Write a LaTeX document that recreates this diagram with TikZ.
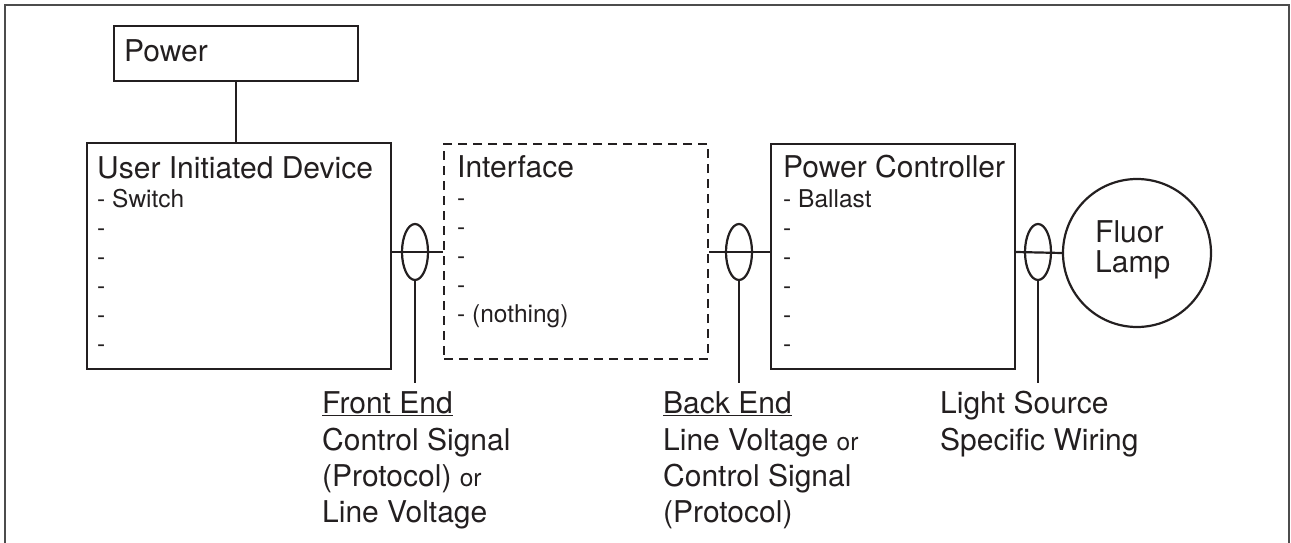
\documentclass[tikz,border=0pt]{standalone}
\usepackage{fontspec}
\setmainfont{TeX Gyre Heros}
\usetikzlibrary{shapes.geometric}
\definecolor{ink}{HTML}{231F20}
\newcommand{\bigf}{\fontsize{30}{36}\selectfont}
\newcommand{\smallf}{\fontsize{24.5}{29}\selectfont}
\begin{document}
\begin{tikzpicture}[x=1pt,y=-1pt,
  box/.style={draw=ink, line width=2.2pt, inner sep=0pt, anchor=north west},
  dbox/.style={box, dash pattern=on 9pt off 6pt},
  txt/.style={anchor=base west, inner sep=0pt, font=\bigf, text=ink},
  stxt/.style={anchor=base west, inner sep=0pt, font=\smallf, text=ink},
  loop/.style={draw=ink, line width=2.2pt, ellipse, inner sep=0pt, minimum width=26pt, minimum height=56pt},
  wire/.style={draw=ink, line width=2.2pt},
  frame/.style={draw=black!70, line width=1.5pt}
]
\useasboundingbox (0,0) rectangle (1291,543);
% outer frame (open at the bottom)
\coordinate (f1) at (5,543);
\coordinate (f2) at (5,5);
\coordinate (f3) at (1289,5);
\coordinate (f4) at (1289,543);
\draw[frame] (f1) -- (f2) -- (f3) -- (f4);

% Power
\node[box, minimum width=244pt, minimum height=55pt] (power) at (113,25) {};
\node[txt] (powerT) at (124,62) {Power};

% User Initiated Device
\node[box, minimum width=304pt, minimum height=226pt] (uid) at (86,142) {};
\node[txt] (uidT) at (97,178) {User Initiated Device};
\node[stxt] (uid1) at (97,207) {- Switch};
\node[stxt] (uid2) at (97,236) {-};
\node[stxt] (uid3) at (97,265) {-};
\node[stxt] (uid4) at (97,294) {-};
\node[stxt] (uid5) at (97,323) {-};
\node[stxt] (uid6) at (97,352) {-};

% Interface
\node[dbox, minimum width=264pt, minimum height=215pt] (iface) at (443,143) {};
\node[txt] (ifaceT) at (457,177) {Interface};
\node[stxt] (if1) at (457,206) {-};
\node[stxt] (if2) at (457,235) {-};
\node[stxt] (if3) at (457,264) {-};
\node[stxt] (if4) at (457,293) {-};
\node[stxt] (if5) at (457,322) {- (nothing)};

% Power Controller
\node[box, minimum width=244pt, minimum height=225pt] (pc) at (770,143) {};
\node[txt] (pcT) at (783,177) {Power Controller};
\node[stxt] (pc1) at (783,207) {- Ballast};
\node[stxt] (pc2) at (783,236) {-};
\node[stxt] (pc3) at (783,265) {-};
\node[stxt] (pc4) at (783,294) {-};
\node[stxt] (pc5) at (783,323) {-};
\node[stxt] (pc6) at (783,352) {-};

% Lamp
\node[draw=ink, line width=2.2pt, circle, minimum size=148pt, inner sep=0pt] (lamp) at (1137,253) {};
\node[txt] (lampT1) at (1095,242) {Fluor};
\node[txt] (lampT2) at (1095,272) {Lamp};

% Loops (ellipses)
\node[loop] (fe) at (415,252) {};
\node[loop] (be) at (739,252) {};
\node[loop] (ls) at (1038,252) {};

% wires
\draw[wire] (power.south) -- (power.south |- uid.north);
\draw[wire] (uid.east |- fe.center) -- (iface.west |- fe.center);
\draw[wire] (iface.east |- be.center) -- (pc.west |- be.center);
\draw[wire] (pc.east |- ls.center) -- (lamp.west);

\coordinate (feEnd) at (415,383);
\coordinate (beEnd) at (739,383);
\coordinate (lsEnd) at (1038,383);
\draw[wire] (fe.south) -- (feEnd);
\draw[wire] (be.south) -- (beEnd);
\draw[wire] (ls.south) -- (lsEnd);

% labels
\node[txt] (feL1) at (322,413) {\underline{Front End}};
\node[txt] (feL2) at (322,450) {Control Signal};
\node[txt] (feL3) at (322,486) {(Protocol) {\smallf or}};
\node[txt] (feL4) at (322,522) {Line Voltage};

\node[txt] (beL1) at (663,413) {\underline{Back End}};
\node[txt] (beL2) at (663,450) {Line Voltage {\smallf or}};
\node[txt] (beL3) at (663,486) {Control Signal};
\node[txt] (beL4) at (663,522) {(Protocol)};

\node[txt] (lsL1) at (940,413) {Light Source};
\node[txt] (lsL2) at (940,450) {Specific Wiring};
\end{tikzpicture}
\end{document}
